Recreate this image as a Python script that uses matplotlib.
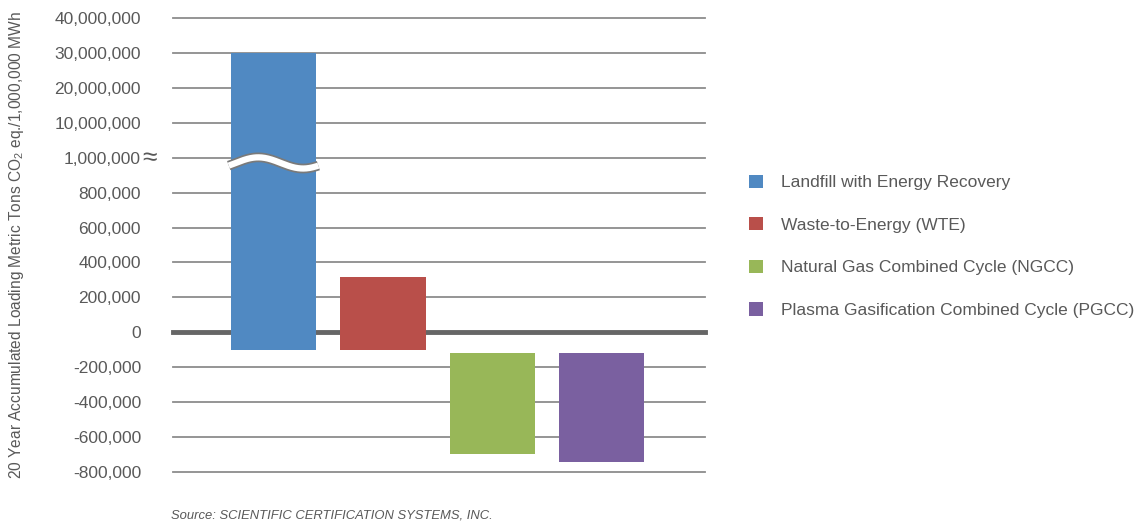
import numpy as np
import matplotlib.pyplot as plt
from matplotlib.patches import Patch
from matplotlib.ticker import FixedLocator, FuncFormatter

plt.rcParams['font.family'] = ['Liberation Sans', 'DejaVu Sans']

# Data
categories = ['Landfill with Energy Recovery', 'Waste-to-Energy (WTE)',
              'Natural Gas Combined Cycle (NGCC)',
              'Plasma Gasification Combined Cycle (PGCC)']
bar_bottom = [-103000, -103000, -118000, -118000]
bar_top = [30000000, 316000, -697000, -743000]
colors = ['#5089C2', '#B94F4A', '#98B758', '#7A60A0']

tick_values = [-800000, -600000, -400000, -200000, 0, 200000, 400000, 600000,
               800000, 1000000, 10000000, 20000000, 30000000, 40000000]
tick_pos = [-800000, -600000, -400000, -200000, 0, 200000, 400000, 600000,
            800000, 1000000, 1200000, 1400000, 1600000, 1800000]


# broken axis: linear up to 1,000,000, then one grid step per 10,000,000
def fwd(v):
    return np.interp(np.asarray(v, dtype=float), tick_values, tick_pos)


def inv(p):
    return np.interp(np.asarray(p, dtype=float), tick_pos, tick_values)


text_col = '#595959'

fig = plt.figure(figsize=(11.45, 5.31), dpi=100)
ax = fig.add_axes([173 / 1145, 1 - 472 / 531, (705 - 173) / 1145, (472 - 18) / 531])
ax.set_yscale('function', functions=(fwd, inv))
ax.set_ylim(-800000, 40000000)
ax.set_xlim(-0.92, 3.947)

# gridlines
for v in tick_values:
    if v == 0:
        continue
    ax.axhline(v, color='#8c8c8c', lw=1.3, zorder=1, clip_on=False)
ax.axhline(0, color='#666666', lw=3.5, zorder=1, clip_on=False)

x = np.arange(len(categories))
heights = [t - b for t, b in zip(bar_top, bar_bottom)]
ax.bar(x, heights, bottom=bar_bottom, width=0.78, color=colors, zorder=2)

# axis break wave on the first bar
wx = np.linspace(-0.41, 0.41, 200)
wy = inv(fwd(1000000) - 30000 + 32000 * np.sin((wx + 0.41) / 0.82 * 2 * np.pi - 0.5))
ax.plot(wx, wy, color='#7a7a7a', lw=7, zorder=3, solid_capstyle='butt')
ax.plot(wx, wy, color='white', lw=4.5, zorder=4, solid_capstyle='butt')

for s in ax.spines.values():
    s.set_visible(False)
ax.set_xticks([])
ax.yaxis.set_major_locator(FixedLocator(tick_values))
ax.yaxis.set_minor_locator(FixedLocator([]))
ax.yaxis.set_major_formatter(FuncFormatter(lambda v, p: f'{int(round(v)):,}'))
ax.tick_params(axis='y', length=0, pad=23, labelsize=12.5, labelcolor=text_col)

fig.text(142 / 1145, 1 - 158 / 531, '\u2248', fontsize=19,
         color=text_col, ha='left', va='center')

fig.text(17 / 1145, 1 - 245 / 531,
         '20 Year Accumulated Loading Metric Tons CO$_\\mathregular{2}$ eq./1,000,000 MWh',
         rotation=90, ha='center', va='center', fontsize=11.2, color=text_col)

handles = [Patch(facecolor=c, edgecolor='none') for c in colors]
fig.legend(handles, categories, loc='upper left', bbox_to_anchor=(733 / 1145, 1 - 159 / 531),
           frameon=False, fontsize=12.5, labelcolor=text_col, handlelength=0.8,
           handleheight=0.8, handletextpad=1.05, labelspacing=1.55)

fig.text(171 / 1145, 1 - 516 / 531, 'Source: SCIENTIFIC CERTIFICATION SYSTEMS, INC.',
         fontsize=9.4, style='italic', color=text_col, va='center')

fig.savefig('out.png', dpi=100)
